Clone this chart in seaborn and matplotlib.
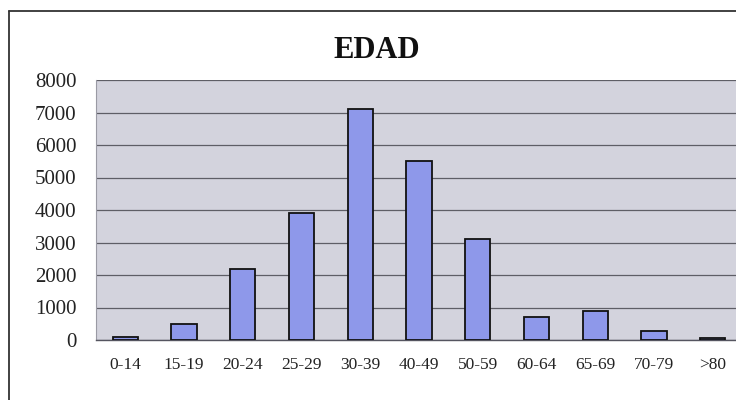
import pandas as pd
import numpy as np
import matplotlib.pyplot as plt
import seaborn as sns
import matplotlib.ticker as ticker
from matplotlib.lines import Line2D

# data
age_groups = ["0-14", "15-19", "20-24", "25-29", "30-39", "40-49",
              "50-59", "60-64", "65-69", "70-79", ">80"]
counts = [80, 500, 2200, 3900, 7100, 5500, 3100, 700, 900, 280, 50]
y_ticks = [0, 1000, 2000, 3000, 4000, 5000, 6000, 7000, 8000]

df = pd.DataFrame({"edad": age_groups, "n": counts})

sns.set_style("white")
plt.rcParams['font.family'] = ['Liberation Serif', 'DejaVu Serif']

fig = plt.figure(figsize=(7.36, 4.0), dpi=100)
ax = fig.add_axes([96 / 736, 60 / 400, 646 / 736, 260 / 400])
ax.set_facecolor("#d3d3dd")

sns.barplot(data=df, x="edad", y="n", ax=ax, color="#8e98ea",
            saturation=1, width=0.43, edgecolor="#111111", linewidth=1.3,
            zorder=3)

ax.set_ylim(0, 8000)
ax.set_xlim(-0.5, len(age_groups) - 0.5)
ax.set_yticks(y_ticks)
ax.yaxis.set_major_formatter(ticker.FormatStrFormatter("%d"))
ax.grid(axis="y", color="#5e5e66", linewidth=0.9, zorder=1)
ax.set_axisbelow(True)
for s in ["top", "right"]:
    ax.spines[s].set_visible(False)
ax.spines["left"].set_color("#9a9aa4")
ax.spines["bottom"].set_color("#555560")
ax.spines["bottom"].set_linewidth(1.0)

ax.tick_params(axis="y", length=0, labelsize=15, pad=14, colors="#222222")
ax.tick_params(axis="x", length=0, labelsize=12.5, pad=12, colors="#222222")
ax.set_xlabel("")
ax.set_ylabel("")

fig.text(377 / 736, 1 - 50 / 400, "EDAD", ha="center", va="center",
         fontsize=22, fontweight="bold", color="#111111")

# outer frame (top and left edges visible)
fig.add_artist(Line2D([9 / 736, 9 / 736], [0, 1 - 11 / 400],
                      transform=fig.transFigure, color="#333333", lw=1.3))
fig.add_artist(Line2D([9 / 736, 1], [1 - 11 / 400, 1 - 11 / 400],
                      transform=fig.transFigure, color="#333333", lw=1.3))

plt.savefig("out.png", dpi=100)
